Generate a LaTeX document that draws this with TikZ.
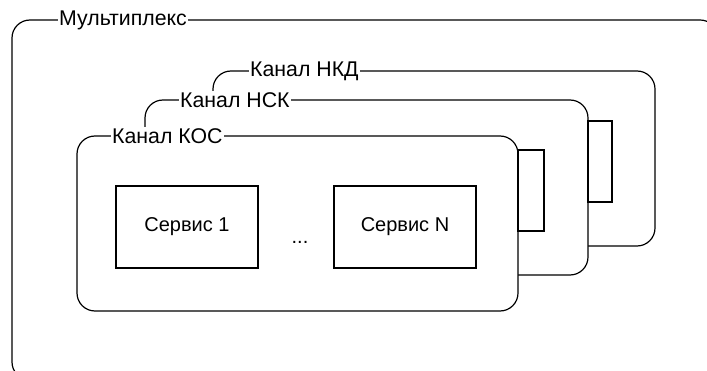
\documentclass[tikz,border=0pt]{standalone}
\usepackage{fontspec}
\setmainfont{Liberation Sans}
\begin{document}
\begin{tikzpicture}[x=1pt,y=-1pt,
  frame/.style={draw=black,line width=1.2pt,fill=white,rounded corners=18pt},
  tab/.style={draw=black,line width=1.2pt,fill=white},
  lbl/.style={fill=white,inner sep=1pt,anchor=west,font=\fontsize{21.3}{24}\selectfont},
  svc/.style={draw=black,line width=1.7pt,fill=white,minimum width=142pt,minimum height=82pt,inner sep=0pt,font=\fontsize{20}{23}\selectfont}]
\useasboundingbox (0,0) rectangle (707,371);
\begin{scope}
\clip (0,0) rectangle (707,371);
% outer multiplex frame
\draw[frame] (12,20) rectangle (718,380);
\node[lbl] (mux) at (58,20) {Мультиплекс};
% channel НКД
\draw[frame] (213,71) rectangle (655,246);
\node[lbl] (nkd) at (249,71) {Канал НКД};
% channel НСК
\draw[frame] (145,100) rectangle (588,275);
\draw[tab] (588,121) rectangle (612,202);
\node[lbl] (nsk) at (179,100) {Канал НСК};
% channel КОС
\draw[frame] (77,136) rectangle (518,311);
\draw[tab] (518,150) rectangle (544,231);
\node[lbl] (kos) at (111,136) {Канал КОС};
% services
\node[svc] (s1) at (187,227) {Сервис 1};
\node[svc] (sn) at (405,227) {Сервис N};
\node[font=\fontsize{20}{23}\selectfont,inner sep=0pt] (dots) at (300,242) {...};
\end{scope}
\end{tikzpicture}
\end{document}
